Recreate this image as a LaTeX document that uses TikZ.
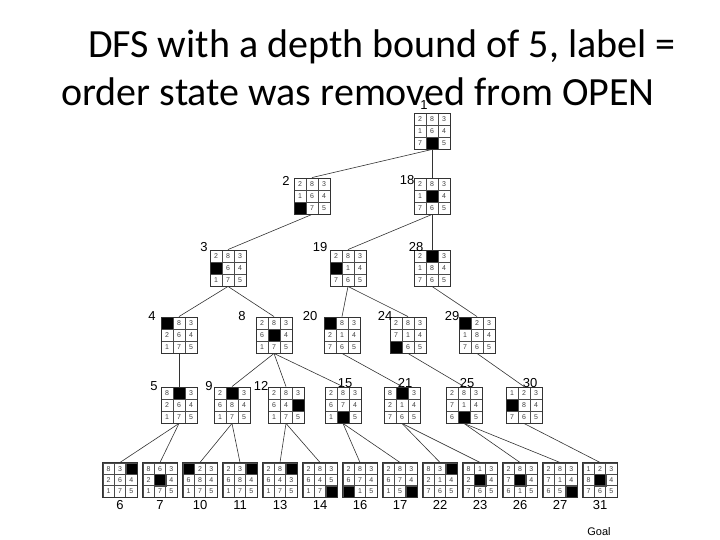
\documentclass[tikz,border=0pt]{standalone}
\usepackage{fontspec}
\setmainfont{Carlito}
\newfontfamily\lab{Liberation Sans}
\newcommand\bd[5]{%
 \foreach \v [count=\i from 0] in {#5} {%
   \pgfmathtruncatemacro\cc{mod(\i,3)}\pgfmathtruncatemacro\rr{div(\i,3)}%
   \ifnum\v=0
     \node[cellb, minimum size=#4pt] (#1-\i) at ({#2+(\cc-1)*#4},{#3+(\rr-1)*#4}) {};
   \else
     \node[cell, minimum size=#4pt] (#1-\i) at ({#2+(\cc-1)*#4},{#3+(\rr-1)*#4}) {\v};
   \fi}%
 \node[draw=black!80, line width=0.9pt, minimum size={3*#4pt}, inner sep=0] (#1) at (#2,#3) {};}
\begin{document}
\begin{tikzpicture}[x=1pt,y=-1pt,
  cell/.style={draw=black!70, line width=0.5pt, inner sep=0, font=\lab\fontsize{7}{7}\selectfont, text=black!75},
  cellb/.style={draw=black!70, fill=black, inner sep=0},
  lbl/.style={font=\lab\fontsize{13}{13}\selectfont, inner sep=0},
  ed/.style={draw=black!80, line width=0.6pt}]
\useasboundingbox (0,0) rectangle (720,540);
\node[font=\fontsize{40}{40}\selectfont, anchor=base, inner sep=0] (t1) at (382,58) {DFS with a depth bound of 5, label =};
\node[font=\fontsize{40}{40}\selectfont, anchor=base, inner sep=0] (t2) at (358,106) {order state was removed from OPEN};
\def\C{12}
\bd{n1}{432}{131}{\C}{2,8,3,1,6,4,7,0,5}
\bd{n2}{312}{196}{\C}{2,8,3,1,6,4,0,7,5}
\bd{n18}{432}{196}{\C}{2,8,3,1,0,4,7,6,5}
\bd{n3}{228}{268}{\C}{2,8,3,0,6,4,1,7,5}
\bd{n19}{348}{268}{\C}{2,8,3,0,1,4,7,6,5}
\bd{n28}{432}{268}{\C}{2,0,3,1,8,4,7,6,5}
\bd{n4}{179}{335}{\C}{0,8,3,2,6,4,1,7,5}
\bd{n8}{274}{335}{\C}{2,8,3,6,0,4,1,7,5}
\bd{n20}{342}{335}{\C}{0,8,3,2,1,4,7,6,5}
\bd{n24}{408}{335}{\C}{2,8,3,7,1,4,0,6,5}
\bd{n29}{477}{335}{\C}{0,2,3,1,8,4,7,6,5}
\bd{n5}{179}{405}{\C}{8,0,3,2,6,4,1,7,5}
\bd{n9}{232}{405}{\C}{2,0,3,6,8,4,1,7,5}
\bd{n12}{286}{405}{\C}{2,8,3,6,4,0,1,7,5}
\bd{n15}{343}{405}{\C}{2,8,3,6,7,4,1,0,5}
\bd{n21}{402}{405}{\C}{8,0,3,2,1,4,7,6,5}
\bd{n25}{464}{405}{\C}{2,8,3,7,1,4,6,0,5}
\bd{n30}{524}{405}{\C}{1,2,3,0,8,4,7,6,5}
\def\D{11.4}
\bd{n6}{120}{480}{\D}{8,3,0,2,6,4,1,7,5}
\bd{n7}{160}{480}{\D}{8,6,3,2,0,4,1,7,5}
\bd{n10}{200}{480}{\D}{0,2,3,6,8,4,1,7,5}
\bd{n11}{240}{480}{\D}{2,3,0,6,8,4,1,7,5}
\bd{n13}{280}{480}{\D}{2,8,0,6,4,3,1,7,5}
\bd{n14}{320}{480}{\D}{2,8,3,6,4,5,1,7,0}
\bd{n16}{360}{480}{\D}{2,8,3,6,7,4,0,1,5}
\bd{n17}{400}{480}{\D}{2,8,3,6,7,4,1,5,0}
\bd{n22}{440}{480}{\D}{8,3,0,2,1,4,7,6,5}
\bd{n23}{480}{480}{\D}{8,1,3,2,0,4,7,6,5}
\bd{n26}{520}{480}{\D}{2,8,3,7,0,4,6,1,5}
\bd{n27}{560}{480}{\D}{2,8,3,7,1,4,6,5,0}
\bd{n31}{600}{480}{\D}{1,2,3,8,0,4,7,6,5}
% labels
\foreach \n/\x/\y in {1/424/105,2/286/181,18/407/180,3/204/247,19/320/247,28/416/247,
  4/152/316,8/242/316,20/310/316,24/385/316,29/452/316,
  5/154/386,9/209/386,12/261/386,15/345/383,21/405/383,25/467/383,30/530/383}
  \node[lbl] (l\n) at (\x,\y) {\n};
\foreach \n/\x in {6/120,7/160,10/200,11/240,13/280,14/320,16/360,17/400,22/440,23/480,26/520,27/560,31/600}
  \node[lbl] (b\n) at (\x,505) {\n};
\node[font=\lab\fontsize{11}{11}\selectfont] (goal) at (599,532) {Goal};
% edges
\foreach \p/\c in {n1/n2,n1/n18,n2/n3,n18/n19,n18/n28,n3/n4,n3/n8,n19/n20,n19/n24,n28/n29,
  n4/n5,n8/n9,n8/n12,n8/n15,n20/n21,n24/n25,n29/n30,
  n5/n6,n5/n7,n9/n10,n9/n11,n12/n13,n12/n14,n15/n16,n15/n17,n21/n22,n21/n23,n25/n26,n25/n27,n30/n31}
  \draw[ed] (\p.south) -- (\c.north);
\end{tikzpicture}
\end{document}
